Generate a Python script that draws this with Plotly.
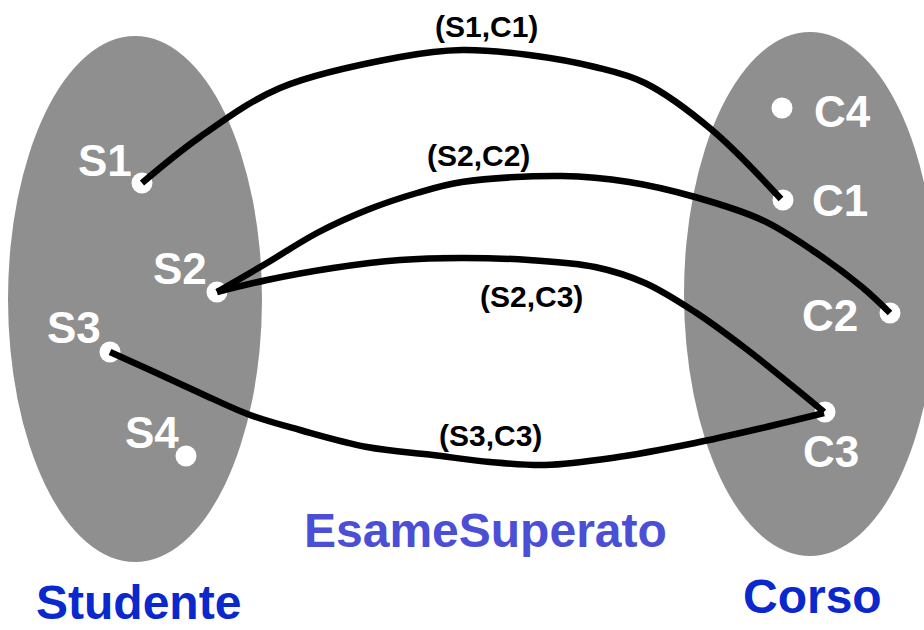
import plotly.graph_objects as go

# ---- data ----
node_names = ["S1", "S2", "S3", "S4", "C4", "C1", "C2", "C3"]
node_x = [142, 217, 110, 186, 782, 783, 890, 825]
node_y = [183, 292, 352, 456, 108, 200, 313, 412]
label_x = [105, 180, 74, 152, 842, 840, 830, 831]
label_y = [160, 268, 327, 432, 111, 200, 315, 451]

edge_names = ["(S1,C1)", "(S2,C2)", "(S2,C3)", "(S3,C3)"]
edge_label_x = [486, 478, 531, 490]
edge_label_y = [26, 155, 296, 435]
edge_route_x = [
    [142, 200, 280, 400, 462, 529, 595, 645, 712, 781],
    [217, 267, 317, 367, 417, 462, 562, 629, 695, 762, 812, 862, 890],
    [217, 267, 333, 400, 462, 529, 595, 645, 695, 745, 795, 824],
    [110, 150, 200, 250, 300, 367, 433, 490, 545, 612, 695, 762, 824],
]
edge_route_y = [
    [183, 137, 88, 57, 50, 55, 67, 83, 130, 199],
    [292, 263, 233, 210, 193, 182, 176, 182, 197, 220, 250, 287, 313],
    [292, 280, 268, 260, 258, 260, 267, 283, 312, 348, 388, 412],
    [352, 370, 393, 415, 430, 447, 455, 462, 465, 458, 443, 428, 413],
]

set_names = ["Studente", "Corso"]
set_cx = [135, 810]
set_cy = [299, 294]
set_rx = [127, 126]
set_ry = [263, 262]
set_label_x = [138, 812]
set_label_y = [630, 624]
relation_name = "EsameSuperato"
relation_x = [485]
relation_y = [530]

GREY = "#8f8f8f"
FONT = "Liberation Sans, Arial, sans-serif"

fig = go.Figure()

# ellipses (entity sets)
for cx, cy, rx, ry in zip(set_cx, set_cy, set_rx, set_ry):
    fig.add_shape(type="circle", xref="x", yref="y",
                  x0=cx - rx, x1=cx + rx, y0=cy - ry, y1=cy + ry,
                  fillcolor=GREY, line=dict(width=0), layer="below")

# nodes
fig.add_trace(go.Scatter(x=node_x, y=node_y, mode="markers",
                         marker=dict(size=21, color="white", line=dict(width=0)),
                         hoverinfo="skip", showlegend=False))

# edges
for rx_, ry_ in zip(edge_route_x, edge_route_y):
    fig.add_trace(go.Scatter(x=rx_, y=ry_, mode="lines",
                             line=dict(color="black", width=6.5, shape="spline", smoothing=1.0),
                             hoverinfo="skip", showlegend=False))

annotations = []
for name, x, y in zip(node_names, label_x, label_y):
    annotations.append(dict(x=x, y=y, text=name, showarrow=False, xref="x", yref="y",
                            xanchor="center", yanchor="middle",
                            font=dict(family=FONT, size=44, color="white", weight="bold")))
for name, x, y in zip(edge_names, edge_label_x, edge_label_y):
    annotations.append(dict(x=x, y=y, text=name, showarrow=False, xref="x", yref="y",
                            xanchor="center", yanchor="middle",
                            font=dict(family=FONT, size=30, color="black", weight="bold")))
for name, x, y in zip(set_names, set_label_x, set_label_y):
    annotations.append(dict(x=x, y=y, text=name, showarrow=False, xref="x", yref="y",
                            xanchor="center", yanchor="bottom", borderpad=0,
                            font=dict(family=FONT, size=48, color="#0a28cc", weight="bold")))
annotations.append(dict(x=relation_x[0], y=relation_y[0], text=relation_name, showarrow=False,
                        xref="x", yref="y", xanchor="center", yanchor="middle",
                        font=dict(family=FONT, size=48, color="#4a4fd6", weight="bold")))

fig.update_layout(
    width=924, height=630,
    margin=dict(l=0, r=0, t=0, b=0),
    paper_bgcolor="white", plot_bgcolor="white",
    xaxis=dict(range=[0, 924], visible=False, fixedrange=True),
    yaxis=dict(range=[630, 0], visible=False, fixedrange=True),
    annotations=annotations,
    showlegend=False,
)

fig.write_html("out.html", config={"displayModeBar": False},
               post_script="document.body.style.margin='0';document.body.style.overflow='hidden';")
